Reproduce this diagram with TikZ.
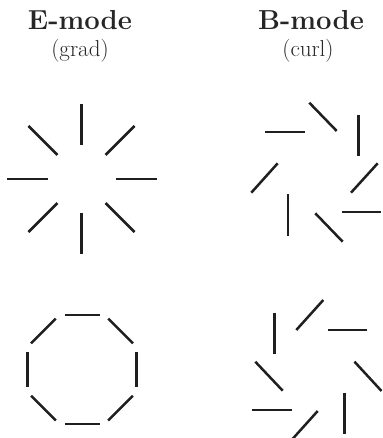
\documentclass[tikz,border=0pt]{standalone}
\usepackage{tikz}
\usetikzlibrary{calc}
\begin{document}
\begin{tikzpicture}[x=1pt,y=-1pt,
  stick/.style={line width=2.5pt,draw=black!88},
  title/.style={font=\fontsize{27.5}{30}\selectfont\bfseries,anchor=base,text=black!85},
  subtitle/.style={font=\fontsize{23}{26}\selectfont,anchor=base,text=black!85}]
\useasboundingbox (0,0) rectangle (382,438);
\clip (0,0) rectangle (382,438);

% column headings
\node[title] (etitle) at (80,30) {E-mode};
\node[subtitle] (esub) at (80,56.5) {(grad)};
\node[title] (btitle) at (311,30) {B-mode};
\node[subtitle] (bsub) at (308,56.5) {(curl)};

% E-mode, radial pattern
\coordinate (ec) at (81.5,179);
\foreach \a in {0,45,...,315}
  \draw[stick] ($(ec)+(\a:34)$) -- ($(ec)+(\a:75)$);

% E-mode, tangential pattern
\coordinate (oc) at (82,369.5);
\foreach \a in {0,45,...,315}
  \draw[stick] ($(oc)+(\a:54.5)+(\a+90:17.5)$) -- ($(oc)+(\a:54.5)+(\a-90:17.5)$);

% B-mode, clockwise swirl
\draw[stick] (265,132) -- (305.3,132);
\draw[stick] (309.3,102.7) -- (336.7,131);
\draw[stick] (358.3,115) -- (358.3,156);
\draw[stick] (377.7,163.3) -- (351,192.7);
\draw[stick] (342,212) -- (381.3,212);
\draw[stick] (315.3,213.3) -- (342.7,241.7);
\draw[stick] (288,194.3) -- (288,235.7);
\draw[stick] (277.7,163.3) -- (251.3,192.7);

% B-mode, counter-clockwise swirl
\draw[stick] (274.3,312.7) -- (274.3,354);
\draw[stick] (323.3,300) -- (296.3,330);
\draw[stick] (328.3,330) -- (367.3,330);
\draw[stick] (354.5,361.7) -- (381.5,391);
\draw[stick] (344.5,392.7) -- (344.5,433.5);
\draw[stick] (317.7,411) -- (290.7,441);
\draw[stick] (251.7,410) -- (291.7,410);
\draw[stick] (255.3,361.7) -- (282.7,390.7);
\end{tikzpicture}
\end{document}
